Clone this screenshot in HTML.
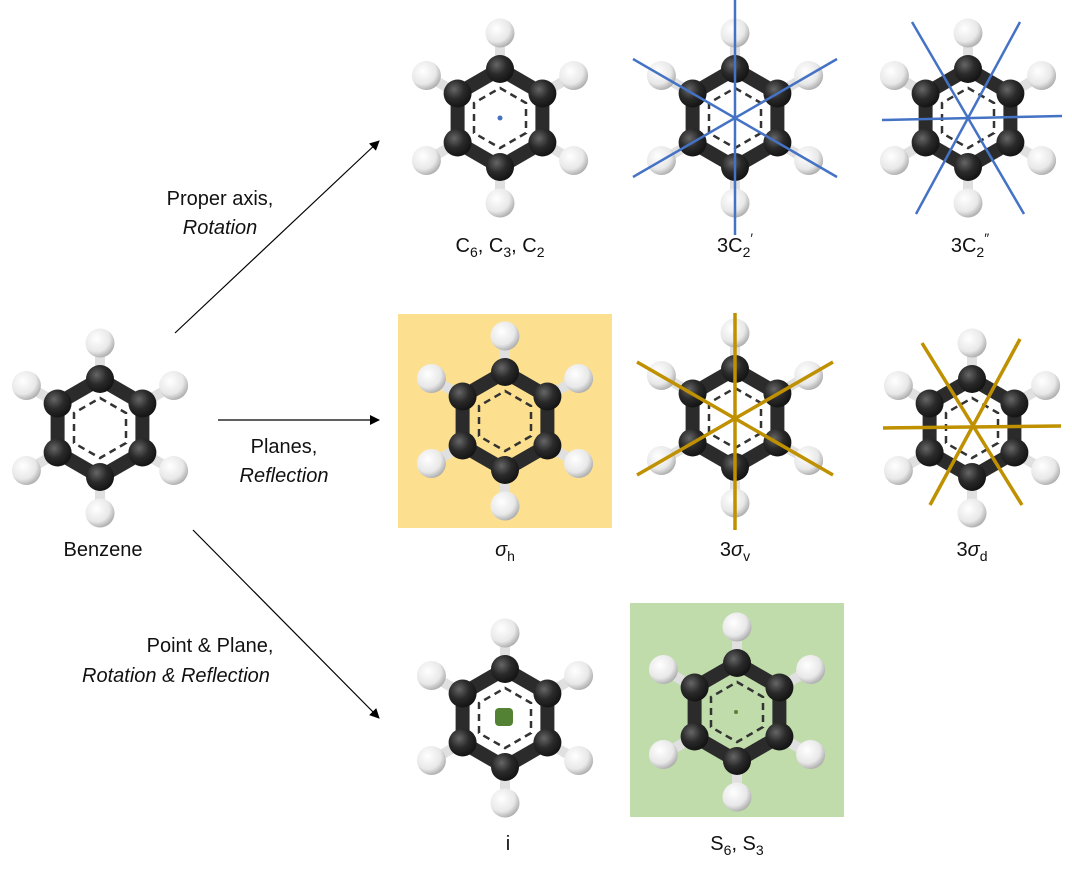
<!DOCTYPE html>
<html><head><meta charset="utf-8"><style>
body{margin:0;background:#fff}
svg text{font-family:"Liberation Sans",sans-serif;font-size:20px;fill:#111}
</style></head><body>
<svg width="1072" height="873" viewBox="0 0 1072 873" xmlns="http://www.w3.org/2000/svg">
<defs>
<radialGradient id="gc" cx="0.38" cy="0.35" r="0.7"><stop offset="0" stop-color="#666"/><stop offset="0.5" stop-color="#2a2a2a"/><stop offset="1" stop-color="#111"/></radialGradient>
<radialGradient id="gh" cx="0.38" cy="0.35" r="0.75"><stop offset="0" stop-color="#fff"/><stop offset="0.6" stop-color="#e8e8e8"/><stop offset="1" stop-color="#9a9a9a"/></radialGradient>
<marker id="ar" markerWidth="10" markerHeight="10" refX="9" refY="5" orient="auto" markerUnits="userSpaceOnUse"><path d="M0,0 L10,5 L0,10 z" fill="#000"/></marker>
<g id="mol">
  <g stroke="#e0e0e0" stroke-width="10">
    <line x1="0" y1="-49" x2="0" y2="-80"/><line x1="0" y1="49" x2="0" y2="80"/>
    <line x1="42.4" y1="-24.5" x2="69" y2="-40"/><line x1="-42.4" y1="-24.5" x2="-69" y2="-40"/>
    <line x1="42.4" y1="24.5" x2="69" y2="40"/><line x1="-42.4" y1="24.5" x2="-69" y2="40"/>
  </g>
  <polygon points="0,-49 42.4,-24.5 42.4,24.5 0,49 -42.4,24.5 -42.4,-24.5" fill="none" stroke="#2b2b2b" stroke-width="14" stroke-linejoin="round"/>
  <polygon points="0,-30 26,-15 26,15 0,30 -26,15 -26,-15" fill="none" stroke="#333" stroke-width="2.5" stroke-dasharray="7,5"/>
  <g fill="url(#gc)">
    <circle cx="0" cy="-49" r="14"/><circle cx="42.4" cy="-24.5" r="14"/><circle cx="42.4" cy="24.5" r="14"/>
    <circle cx="0" cy="49" r="14"/><circle cx="-42.4" cy="24.5" r="14"/><circle cx="-42.4" cy="-24.5" r="14"/>
  </g>
  <g fill="url(#gh)">
    <circle cx="0" cy="-85" r="14.5"/><circle cx="73.6" cy="-42.5" r="14.5"/><circle cx="73.6" cy="42.5" r="14.5"/>
    <circle cx="0" cy="85" r="14.5"/><circle cx="-73.6" cy="42.5" r="14.5"/><circle cx="-73.6" cy="-42.5" r="14.5"/>
  </g>
</g>
</defs>

<rect x="398" y="314" width="214" height="214" fill="#fde08f"/>
<rect x="630" y="603" width="214" height="214" fill="#c0dcab"/>

<use href="#mol" x="100" y="428"/>
<use href="#mol" x="500" y="118"/>
<use href="#mol" x="735" y="118"/>
<use href="#mol" x="968" y="118"/>
<use href="#mol" x="505" y="421"/>
<use href="#mol" x="735" y="418"/>
<use href="#mol" x="972" y="428"/>
<use href="#mol" x="505" y="718"/>
<use href="#mol" x="737" y="712"/>

<circle cx="500" cy="118" r="2.5" fill="#4472c4"/>
<g stroke="#4472c4" stroke-width="2.5">
  <line x1="735" y1="0" x2="735" y2="235"/>
  <line x1="633" y1="59" x2="837" y2="177"/>
  <line x1="633" y1="177" x2="837" y2="59"/>
  <line x1="882" y1="120" x2="1062" y2="116"/>
  <line x1="912" y1="22" x2="1024" y2="214"/>
  <line x1="1020" y1="22" x2="916" y2="214"/>
</g>
<g stroke="#bf9000" stroke-width="3.5">
  <line x1="735" y1="313" x2="735" y2="530"/>
  <line x1="637" y1="362" x2="833" y2="475"/>
  <line x1="637" y1="475" x2="833" y2="362"/>
  <line x1="883" y1="428" x2="1061" y2="426"/>
  <line x1="922" y1="343" x2="1022" y2="505"/>
  <line x1="1020" y1="339" x2="930" y2="505"/>
</g>
<rect x="495" y="708" width="18" height="18" rx="4" fill="#548235"/>
<circle cx="736" cy="712" r="2" fill="#548235"/>

<g stroke="#000" stroke-width="1.2">
  <line x1="175" y1="333" x2="379" y2="141" marker-end="url(#ar)"/>
  <line x1="218" y1="420" x2="379" y2="420" marker-end="url(#ar)"/>
  <line x1="193" y1="530" x2="379" y2="718" marker-end="url(#ar)"/>
</g>

<text x="220" y="205" text-anchor="middle">Proper axis,</text>
<text x="220" y="234" text-anchor="middle" font-style="italic">Rotation</text>
<text x="284" y="453" text-anchor="middle">Planes,</text>
<text x="284" y="482" text-anchor="middle" font-style="italic">Reflection</text>
<text x="210" y="652" text-anchor="middle">Point &amp; Plane,</text>
<text x="176" y="682" text-anchor="middle" font-style="italic">Rotation &amp; Reflection</text>
<text x="103" y="556" text-anchor="middle">Benzene</text>

<text x="500" y="252" text-anchor="middle">C<tspan font-size="14" dy="5">6</tspan><tspan dy="-5">, C</tspan><tspan font-size="14" dy="5">3</tspan><tspan dy="-5">, C</tspan><tspan font-size="14" dy="5">2</tspan></text>
<text x="735" y="252" text-anchor="middle">3C<tspan font-size="14" dy="5">2</tspan><tspan font-size="14" dy="-14">′</tspan></text>
<text x="970" y="252" text-anchor="middle">3C<tspan font-size="14" dy="5">2</tspan><tspan font-size="14" dy="-14">″</tspan></text>
<text x="505" y="556" text-anchor="middle"><tspan font-style="italic">σ</tspan><tspan font-size="14" dy="5">h</tspan></text>
<text x="735" y="556" text-anchor="middle">3<tspan font-style="italic">σ</tspan><tspan font-size="14" dy="5">v</tspan></text>
<text x="972" y="556" text-anchor="middle">3<tspan font-style="italic">σ</tspan><tspan font-size="14" dy="5">d</tspan></text>
<text x="508" y="850" text-anchor="middle">i</text>
<text x="737" y="850" text-anchor="middle">S<tspan font-size="14" dy="5">6</tspan><tspan dy="-5">, S</tspan><tspan font-size="14" dy="5">3</tspan></text>
</svg>
</body></html>
